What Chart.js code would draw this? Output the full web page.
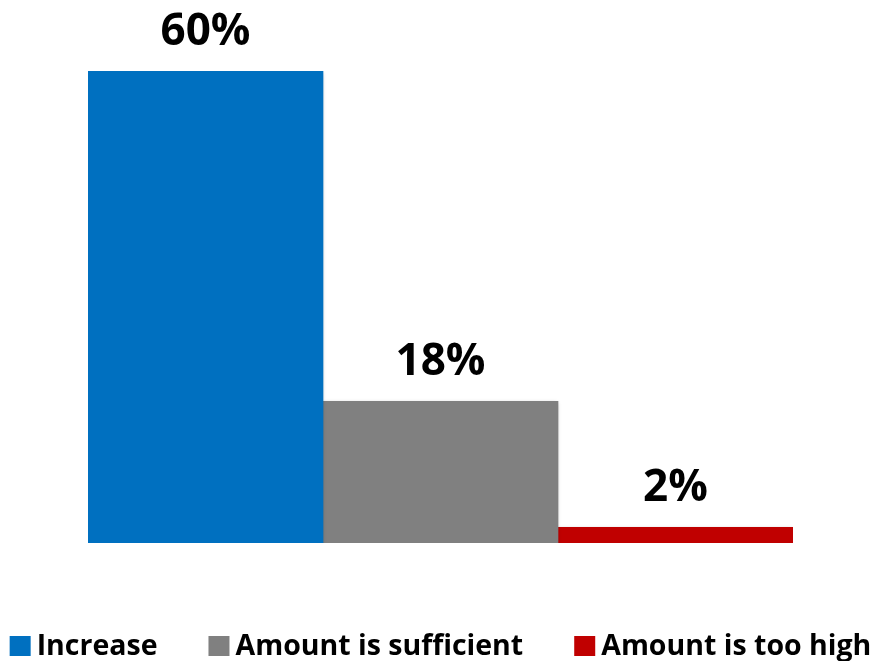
<!DOCTYPE html>
<html>
<head>
<meta charset="utf-8">
<script src="https://cdn.jsdelivr.net/npm/chart.js@4"></script>
<style>
  html, body { margin: 0; padding: 0; background: #fff; }
  #wrap { width: 881px; height: 661px; }
</style>
</head>
<body>
<div id="wrap"><canvas id="answers"></canvas></div>
<script>
const categories = ["Increase", "Amount is sufficient", "Amount is too high"];
const shares = [60, 18, 2];
const barColors = ["#0070C0", "#808080", "#C00000"];

const labelFont = "bold 44px 'Open Sans'";
const legendFont = "bold 28.5px 'Open Sans'";

// value labels above each bar
const barLabels = {
  id: "barLabels",
  afterDatasetsDraw: function (chart) {
    const ctx = chart.ctx;
    ctx.save();
    ctx.font = labelFont;
    ctx.fillStyle = "#000";
    ctx.textAlign = "center";
    ctx.textBaseline = "alphabetic";
    chart.data.datasets.forEach(function (ds, i) {
      const bar = chart.getDatasetMeta(i).data[0];
      ctx.fillText(ds.data[0] + "%", bar.x, bar.y - 26);
    });
    ctx.restore();
  }
};

// soft drop shadow under the bars
const barShadow = {
  id: "barShadow",
  beforeDatasetDraw: function (chart) {
    const ctx = chart.ctx;
    ctx.save();
    ctx.shadowColor = "rgba(0,0,0,0.35)";
    ctx.shadowBlur = 4;
    ctx.shadowOffsetX = -1;
    ctx.shadowOffsetY = 2;
  },
  afterDatasetDraw: function (chart) {
    chart.ctx.restore();
  }
};

// one-row legend across the full width at the bottom
const wideLegend = {
  id: "wideLegend",
  afterDraw: function (chart) {
    const ctx = chart.ctx;
    const box = 21, boxGap = 6, itemGap = 51;
    const baseline = chart.height - 6;
    ctx.save();
    ctx.font = legendFont;
    const items = chart.data.datasets.map(function (ds) {
      return { text: ds.label, color: ds.backgroundColor, w: ctx.measureText(ds.label).width };
    });
    let total = 0;
    items.forEach(function (it, i) {
      total += box + boxGap + it.w + (i > 0 ? itemGap : 0);
    });
    let x = (chart.width - total) / 2;
    ctx.textBaseline = "alphabetic";
    ctx.textAlign = "left";
    items.forEach(function (it) {
      ctx.fillStyle = it.color;
      ctx.fillRect(x, baseline - 19, box, 20);
      ctx.fillStyle = "#000";
      ctx.fillText(it.text, x + box + boxGap, baseline);
      x += box + boxGap + it.w + itemGap;
    });
    ctx.restore();
  }
};

const datasets = categories.map(function (name, i) {
  return {
    label: name,
    data: [shares[i]],
    backgroundColor: barColors[i],
    borderWidth: 0,
    categoryPercentage: 1,
    barPercentage: 1
  };
});

new Chart(document.getElementById("answers"), {
  type: "bar",
  data: {
    labels: [""],
    datasets: datasets
  },
  options: {
    responsive: true,
    maintainAspectRatio: false,
    animation: false,
    layout: {
      padding: { left: 88, right: 88, top: 71, bottom: 118 }
    },
    scales: {
      x: { display: false },
      y: { display: false, min: 0, max: 60 }
    },
    plugins: {
      tooltip: { enabled: false },
      legend: { display: false }
    }
  },
  plugins: [barShadow, barLabels, wideLegend]
});
</script>
</body>
</html>
